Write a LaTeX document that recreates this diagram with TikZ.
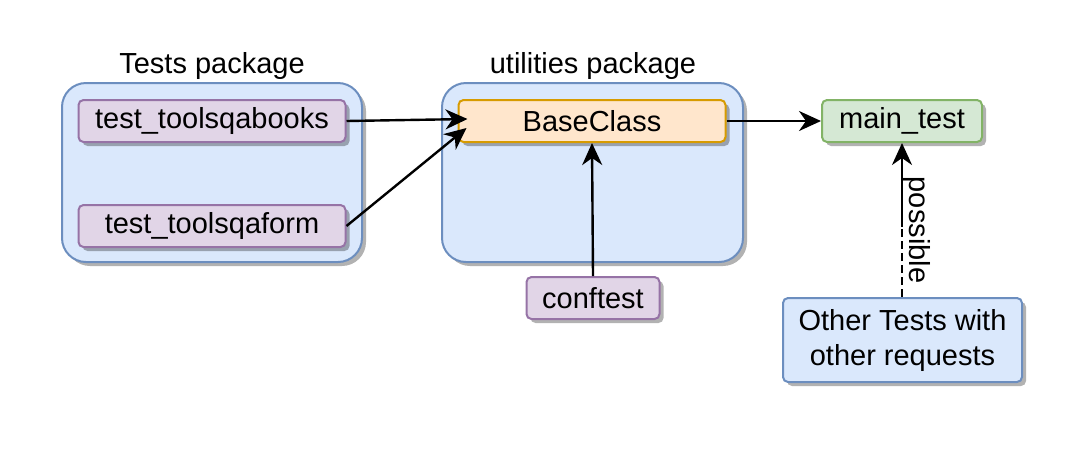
\documentclass[tikz,border=0pt]{standalone}
\usepackage{fontspec}
\setmainfont{Liberation Sans}
\usetikzlibrary{positioning, arrows.meta, calc, shadows}

\definecolor{pkgfill}{HTML}{DAE8FC}
\definecolor{pkgline}{HTML}{6C8EBF}
\definecolor{testfill}{HTML}{E1D5E7}
\definecolor{testline}{HTML}{9673A6}
\definecolor{basefill}{HTML}{FFE6CC}
\definecolor{baseline}{HTML}{D79B00}
\definecolor{mainfill}{HTML}{D5E8D4}
\definecolor{mainline}{HTML}{82B366}

\begin{document}
\begin{tikzpicture}[x=0.5pt, y=-0.5pt,
    every node/.style={font=\fontsize{14.5}{17.5}\selectfont},
    boxshadow/.style={drop shadow={shadow xshift=2pt, shadow yshift=-2pt, fill=black, opacity=0.3}},
    pkgbox/.style={draw=pkgline, fill=pkgfill, line width=1pt, rounded corners=12pt, boxshadow, inner sep=0pt},
    item/.style={line width=1pt, rounded corners=2.5pt, boxshadow, inner sep=0pt, minimum height=21pt},
    testbox/.style={item, draw=testline, fill=testfill},
    basebox/.style={item, draw=baseline, fill=basefill},
    mainbox/.style={item, draw=mainline, fill=mainfill},
    otherbox/.style={item, draw=pkgline, fill=pkgfill, align=center},
    conn/.style={-{Stealth[length=11pt, width=10pt, inset=3.5pt]}, line width=1.2pt},
    maybe/.style={line width=1.2pt, dash pattern=on 4pt off 2pt}]
    \useasboundingbox (0,0) rectangle (1086,452);

    % packages
    \node[pkgbox, minimum width=150pt, minimum height=89.5pt] (testspkg) at (212,172.5) {};
    \node (testslbl) at (212,66) {Tests package};
    \node[pkgbox, minimum width=150.5pt, minimum height=89.5pt] (utilpkg) at (592.5,172.5) {};
    \node (utillbl) at (593,66) {utilities package};

    % classes
    \node[testbox, minimum width=133.5pt] (books) at (212,121) {test\_toolsqabooks};
    \node[testbox, minimum width=133.5pt] (form) at (212,226) {test\_toolsqaform};
    \node[basebox, minimum width=133.5pt] (base) at (592,121) {BaseClass};
    \node[testbox, minimum width=66.5pt] (conftest) at (593,298) {conftest};
    \node[mainbox, minimum width=80pt] (maintest) at (902,121) {main\_test};
    \node[otherbox, minimum width=119.5pt, minimum height=42pt] (others) at (902.5,340) {Other Tests with\\other requests};

    % connectors
    \draw[conn] (books.east) -- ([xshift=5pt, yshift=1pt]base.west);
    \draw[conn] (form.east) -- ([xshift=4.5pt, yshift=-3.5pt]base.west);
    \draw[conn] (conftest.north) -- (base.south);
    \draw[conn] (base.east) -- (maintest.west);
    \coordinate (brk) at (902,227);
    \draw[maybe] (others.north -| brk) -- (brk);
    \draw[conn] (brk) -- (maintest.south -| brk);
    \node[rotate=-90] (possiblelbl) at (917,230) {possible};
\end{tikzpicture}
\end{document}
